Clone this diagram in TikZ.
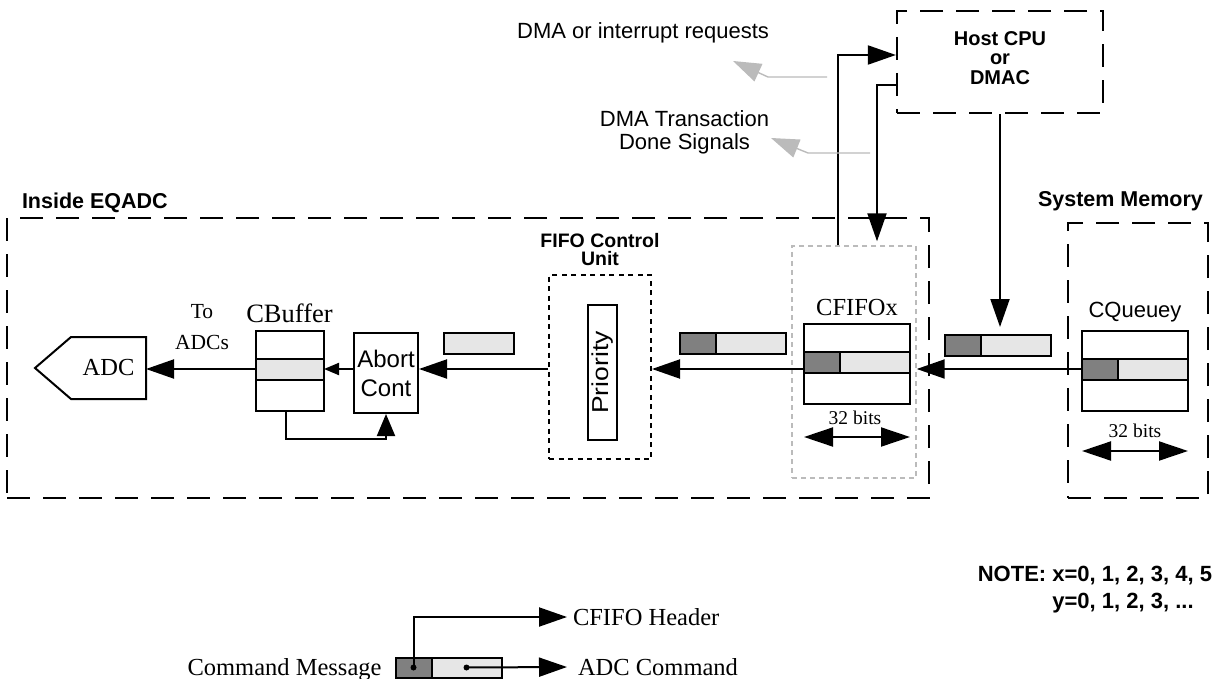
\documentclass[tikz,border=0pt]{standalone}
\usepackage{fontspec}
\setmainfont{Liberation Serif}
\setsansfont{Liberation Sans}
\usepackage{tikz}
\usetikzlibrary{positioning,arrows.meta,calc}
\usepackage{xcolor}
\definecolor{hdrgray}{HTML}{808080}
\definecolor{cmdgray}{HTML}{E6E6E6}
\definecolor{siggray}{HTML}{BBBBBB}

\begin{document}
\begin{tikzpicture}[x=1pt, y=-1pt, line width=2pt,
  lbl/.style={font=\fontsize{22}{23}\selectfont\sffamily, inner sep=0, align=center},
  blbl/.style={font=\fontsize{21.5}{24}\selectfont\sffamily\bfseries, inner sep=0, align=center},
  slbl/.style={font=\fontsize{24.5}{28}\selectfont, inner sep=0, align=center},
  region/.style={draw, line width=2.2pt, dash pattern=on 23pt off 13pt, inner sep=0},
  cell/.style={draw, inner sep=0, outer sep=0, minimum width=106pt},
  hdr/.style={draw, fill=hdrgray, inner sep=0, outer sep=0, minimum width=36pt, minimum height=21pt},
  cmd/.style={draw, fill=cmdgray, inner sep=0, outer sep=0, minimum width=70pt, minimum height=21pt},
  arr/.style={-{Triangle[length=28pt,width=19pt]}},
  dim/.style={{Triangle[length=29pt,width=19pt]}-{Triangle[length=29pt,width=19pt]}},
  sig/.style={-{Triangle[length=28pt,width=19pt]}, draw=siggray, line width=1.4pt}]
  \path[use as bounding box, fill=white] (0,0) rectangle (1215,679);

  % regions
  \node[region, minimum width=922pt, minimum height=280pt] (eqadc) at (468,358) {};
  \node[region, minimum width=206pt, minimum height=102pt] (host) at (1000,62) {};
  \node[region, minimum width=140pt, minimum height=275pt] (sysmem) at (1138,360.5) {};
  \node[draw, dash pattern=on 5pt off 4.5pt, inner sep=0, minimum width=102pt, minimum height=184pt] (fifo) at (600,367) {};
  \node[draw=siggray, line width=1.4pt, dash pattern=on 5pt off 4pt, inner sep=0, minimum width=124pt, minimum height=232pt] (cfifox) at (854,362) {};

  \node[blbl, anchor=west] (eqlbl) at (21,203) {Inside EQADC};
  \node[blbl, anchor=west] (smlbl) at (1037,201) {System Memory};
  \node[blbl, font=\fontsize{20}{19.5}\selectfont\sffamily\bfseries] (hostlbl) at (1000,58) {Host CPU\\or\\DMAC};
  \node[blbl, font=\fontsize{19.5}{18}\selectfont\sffamily\bfseries] (fifolbl) at (600,250) {FIFO Control\\Unit};
  \node[lbl, anchor=east] (reqlbl) at (770,33) {DMA or interrupt requests};
  \node[lbl] (donelbl) at (684.5,132) {DMA Transaction\\Done Signals};

  % blocks
  \node[draw, inner sep=0, minimum width=29pt, minimum height=135pt] (prio) at (602.5,372.5) {};
  \node[lbl, rotate=90, font=\fontsize{23}{23}\selectfont\sffamily] (priolbl) at (prio) {\scalebox{1.15}[1]{Priority}};
  \node[draw, lbl, font=\fontsize{24}{29}\selectfont\sffamily, minimum width=64pt, minimum height=80pt] (abort) at (386,373) {Abort\\Cont};
  \node[slbl, font=\fontsize{26.5}{28}\selectfont] (cblbl) at (289.5,313) {CBuffer};
  \node[cell, minimum width=68pt, minimum height=28pt, anchor=north] (cb1) at (290,331) {};
  \node[cell, fill=cmdgray, minimum width=68pt, minimum height=21pt, anchor=north] (cb2) at (cb1.south) {};
  \node[cell, minimum width=68pt, minimum height=31pt, anchor=north] (cb3) at (cb2.south) {};
  \node[slbl, font=\fontsize{21.5}{31}\selectfont] (tolbl) at (202,327) {To\\ADCs};
  \node[slbl, minimum width=73pt, minimum height=60pt] (adc) at (108.5,368) {ADC};
  \draw (adc.north east) -- (adc.north west) -- (35,368) -- (adc.south west) -- (adc.south east) -- cycle;

  \foreach \n/\x/\y in {cf/804/324, cq/1082/331} {
    \node[cell, minimum height=28pt, anchor=north west] (\n1) at (\x,\y) {};
    \node[hdr, anchor=north west] (\n2h) at (\n1.south west) {};
    \node[cmd, anchor=west] (\n2c) at (\n2h.east) {};
    \node[cell, minimum height=31pt, anchor=north west] (\n3) at (\n2h.south west) {};
  }
  \node[slbl] (cflbl) at (857,308) {CFIFOx};
  \node[lbl] (cqlbl) at (1135,312) {CQueuey};
  \node[slbl, font=\fontsize{19.5}{20}\selectfont] (cfbits) at (855,418) {32 bits};
  \node[slbl, font=\fontsize{19.5}{20}\selectfont] (cqbits) at (1135,431) {32 bits};
  \draw[dim] (cf3.west |- 0,437) -- (cf3.east |- 0,437);
  \draw[dim] (cq3.west |- 0,451) -- (cq3.east |- 0,451);

  % messages
  \node[hdr] (qh) at (963,345) {};
  \node[cmd, anchor=west] (qc) at (qh.east) {};
  \node[hdr] (fh) at (697.5,343.5) {};
  \node[cmd, anchor=west] (fc) at (fh.east) {};
  \node[cmd] (ac) at (478.5,343.5) {};

  \coordinate (bus) at (0,369);
  \draw[arr] (cq2h.west |- bus) -- (cfifox.east |- bus);
  \draw[arr] (cf2h.west |- bus) -- (fifo.east |- bus);
  \draw[arr] (fifo.west |- bus) -- (abort.east |- bus);
  \draw[-{Triangle[length=15pt,width=12pt]}] (abort.west |- bus) -- (cb2.east |- bus);
  \draw[arr] (cb2.west |- bus) -- (adc.east |- bus);
  \draw[-{Triangle[length=22pt,width=18pt]}] ([xshift=-4pt]cb3.south) -- ++(0,28) -| (abort.south);

  \draw[arr] ([xshift=-16pt]cfifox.north) |- (host.west |- 0,55);
  \draw[arr] (host.west |- 0,85) -| ([shift={(23pt,4pt)}]cfifox.north);
  \draw[arr] (host.south) -- (host.south |- 0,327);

  \coordinate (g1s) at (827,77);
  \coordinate (g1e) at (733,61);
  \coordinate (g2s) at (870,153);
  \coordinate (g2e) at (771,138);
  \draw[sig] (g1s) -- (768,77) -- (g1e);
  \draw[sig] (g2s) -- (808,153) -- (g2e);

  % legend
  \node[hdr, minimum height=20pt] (lh) at (413.5,667.5) {};
  \node[cmd, minimum height=20pt, anchor=west] (lc) at (lh.east) {};
  \node[slbl, anchor=east] (msglbl) at ([xshift=-13pt,yshift=-2pt]lh.west) {Command Message};
  \node[slbl, anchor=west] (hdrlbl) at (572,617) {CFIFO Header};
  \node[slbl, anchor=west] (cmdlbl) at (577,667) {ADC Command};
  \fill (lh.center) circle (3pt) (lc.center) circle (3pt);
  \draw[arr] (lh.center) |- ([xshift=-5pt]hdrlbl.west);
  \draw[arr] (lc.center) -- ([xshift=-10pt]cmdlbl.west);

  \node[blbl, align=left, anchor=north east, font=\fontsize{22}{27}\selectfont\sffamily\bfseries] (note) at (1213,565)
    {NOTE: x=0, 1, 2, 3, 4, 5\\\phantom{NOTE: }y=0, 1, 2, 3, ...};
\end{tikzpicture}
\end{document}
